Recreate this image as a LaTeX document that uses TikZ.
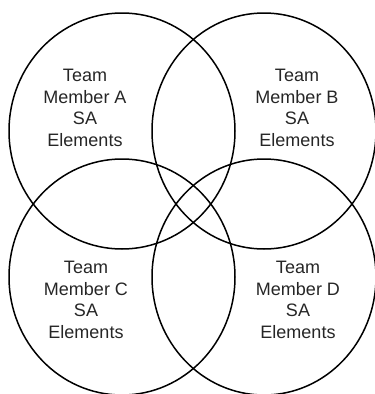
\documentclass[tikz,border=0pt]{standalone}
\usepackage{fontspec}
\setmainfont{Liberation Sans}
\usepackage{tikz}
\usetikzlibrary{positioning}

\begin{document}
\begin{tikzpicture}[x=1pt, y=-1pt, line width=1.5pt,
    member/.style={align=center, font=\fontsize{18}{21.7}\selectfont, text=black!85}]
  \useasboundingbox (0,0) rectangle (375,394);
  \coordinate (A) at (122,131);
  \coordinate (B) at (264,131);
  \coordinate (C) at (122,277);
  \coordinate (D) at (264,277);

  \draw (A) ellipse [x radius=113, y radius=118];
  \draw (B) ellipse [x radius=112, y radius=118];
  \draw (C) ellipse [x radius=113, y radius=118];
  \draw (D) ellipse [x radius=112, y radius=118];

  \node[member] (a) at (85,108) {Team\\Member A\\SA\\Elements};
  \node[member] (b) at (297,108) {Team\\Member B\\SA\\Elements};
  \node[member] (c) at (86,300) {Team\\Member C\\SA\\Elements};
  \node[member] (d) at (298,300) {Team\\Member D\\SA\\Elements};
\end{tikzpicture}
\end{document}
